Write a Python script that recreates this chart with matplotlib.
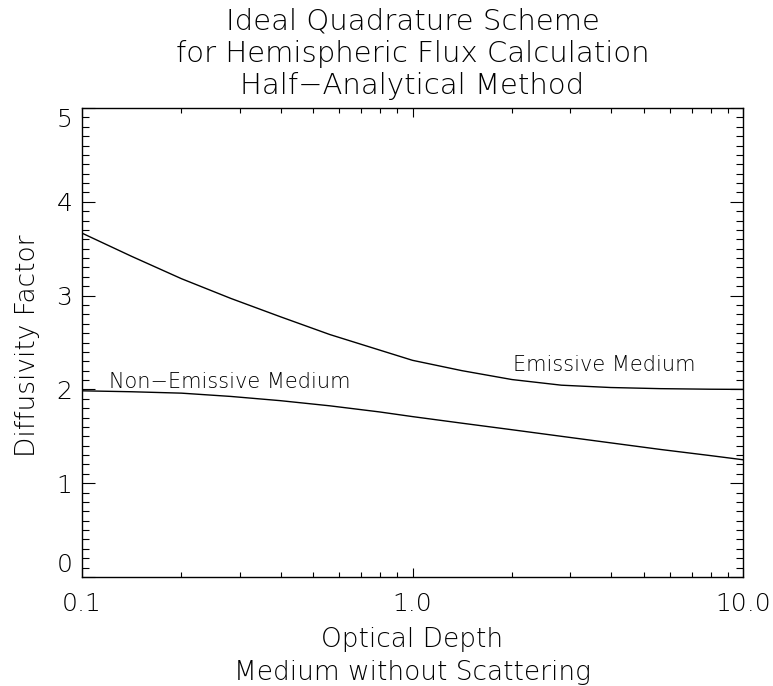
import numpy as np
import matplotlib
matplotlib.use("Agg")
import matplotlib.pyplot as plt
from matplotlib.ticker import FixedLocator, NullFormatter, MultipleLocator

# values
tau = [0.1, 0.141, 0.2, 0.282, 0.398, 0.562, 0.794, 1.0, 1.41, 2.0, 2.82, 3.98, 5.62, 7.94, 10.0]
emissive = [3.666, 3.42, 3.18, 2.97, 2.775, 2.585, 2.42, 2.31, 2.20, 2.105, 2.045, 2.02, 2.008,
            2.002, 2.0]
non_emissive = [1.985, 1.975, 1.96, 1.925, 1.88, 1.825, 1.76, 1.71, 1.64, 1.57, 1.50, 1.43,
                1.36, 1.295, 1.25]

title_lines = ["Ideal Quadrature Scheme", "for Hemispheric Flux Calculation",
               "Half\u2212Analytical Method"]
xlabel_lines = ["Optical Depth", "Medium without Scattering"]
ylabel = "Diffusivity Factor"
x_ticks = [0.1, 1.0, 10.0]
x_ticklabels = ["0.1", "1.0", "10.0"]
y_ticks = [0, 1, 2, 3, 4, 5]

W, H = 773, 686
fig = plt.figure(figsize=(W / 100, H / 100), dpi=100)
ax = fig.add_axes([82 / W, 1 - 577 / H, (743 - 82) / W, (577 - 108) / H])

font = dict(family="DejaVu Sans", weight="light")

ax.plot(tau, emissive, color="black", lw=1.0)
ax.plot(tau, non_emissive, color="black", lw=1.0)

ax.set_xscale("log")
ax.set_xlim(0.1, 10)
ax.set_ylim(0, 5)

ax.xaxis.set_major_locator(FixedLocator(x_ticks))
ax.set_xticklabels(x_ticklabels, fontsize=18, **font)
minor = [m * d for d in (0.1, 1.0) for m in range(2, 10)]
ax.xaxis.set_minor_locator(FixedLocator(minor))
ax.xaxis.set_minor_formatter(NullFormatter())
ax.yaxis.set_major_locator(FixedLocator(y_ticks))
ylabels = ax.set_yticklabels([str(v) for v in y_ticks], fontsize=18, **font)
ax.yaxis.set_minor_locator(MultipleLocator(0.1))
# end labels sit inside the axis range, as in the original
ylabels[0].set_verticalalignment("bottom")
ylabels[-1].set_verticalalignment("top")

ax.tick_params(axis="x", which="major", direction="in", length=6.8, width=0.8,
               top=True, pad=11)
ax.tick_params(axis="x", which="minor", direction="in", length=3.4, width=0.8, top=True)
ax.tick_params(axis="y", which="major", direction="in", length=9.5, width=0.8,
               right=True, pad=7)
ax.tick_params(axis="y", which="minor", direction="in", length=4.8, width=0.8, right=True)
for sp in ax.spines.values():
    sp.set_linewidth(1.0)

ax.text(0.1207, 2.015, "Non\u2212Emissive Medium", fontsize=15, **font)
ax.text(2.01, 2.20, "Emissive Medium", fontsize=15, **font)

cx = (82 + 743) / 2 / W
for i, line in enumerate(title_lines):
    fig.text(cx, 1 - (29.3 + 32.3 * i) / H, line, ha="center", va="baseline",
             fontsize=21, **font)
for i, line in enumerate(xlabel_lines):
    fig.text(cx, 1 - (646.7 + 33 * i) / H, line, ha="center", va="baseline",
             fontsize=19, **font)
fig.text(28 / W, 1 - 346 / H, ylabel, rotation=90, ha="center", va="center",
         fontsize=19, **font)

fig.savefig("out.png", dpi=100, facecolor="white")
